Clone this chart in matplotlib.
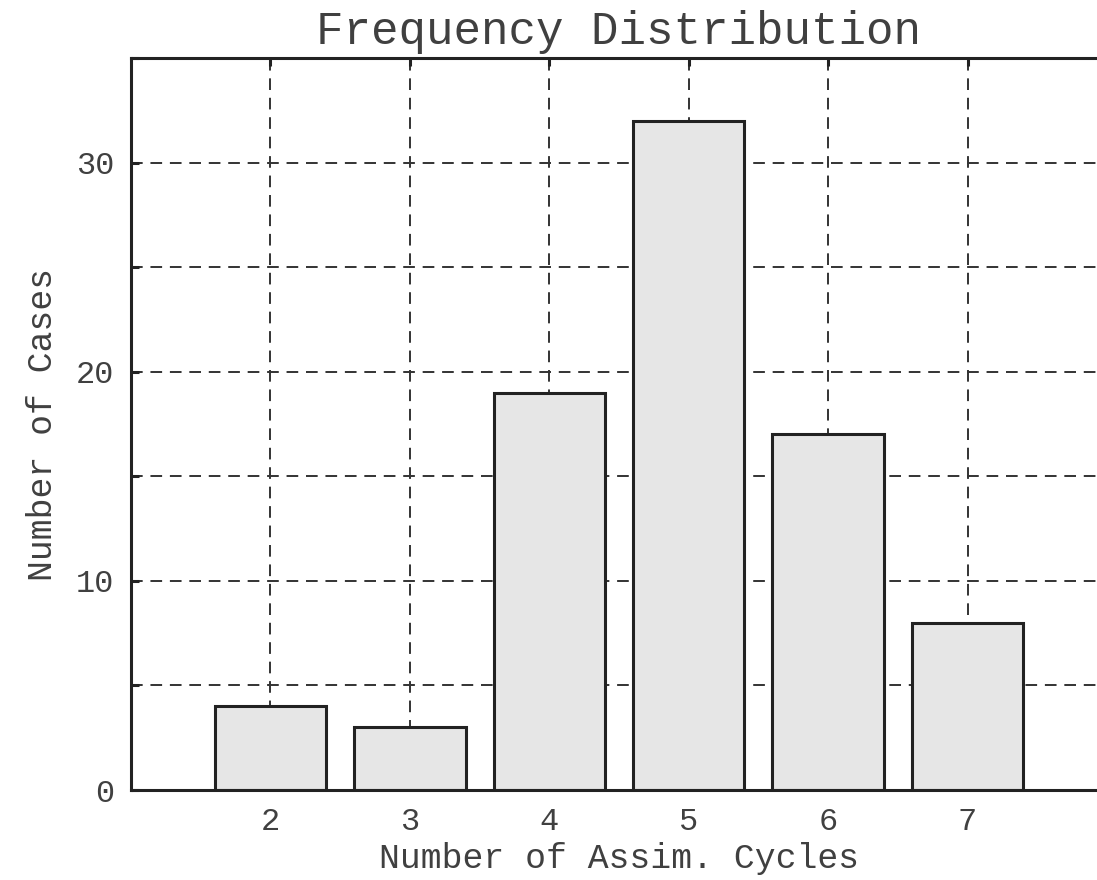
import matplotlib
matplotlib.use("Agg")
import matplotlib.pyplot as plt
from matplotlib.ticker import MultipleLocator

cycles = [2, 3, 4, 5, 6, 7]
counts = [4, 3, 19, 32, 17, 8]
title = "Frequency Distribution"
xlabel = "Number of Assim. Cycles"
ylabel = "Number of Cases"

plt.rcParams['font.family'] = ['Liberation Mono', 'DejaVu Sans Mono']
txt = '#404040'
edge = '#222222'

fig = plt.figure(figsize=(10.97, 8.8), dpi=100)
W, H = 1097, 880
left, right, top, bottom = 131, 1107, 58, 790
ax = fig.add_axes([left / W, 1 - bottom / H, (right - left) / W, (bottom - top) / H])

ax.bar(cycles, counts, width=0.8, color='#e6e6e6', edgecolor=edge, linewidth=2.2, zorder=3)

ax.set_xlim(1, 8)
ax.set_ylim(0, 35)
ax.set_xticks(cycles)
ax.yaxis.set_major_locator(MultipleLocator(10))
ax.yaxis.set_minor_locator(MultipleLocator(5))

ax.grid(True, which='both', axis='y', linestyle=(0, (6, 4)), color='#333333', linewidth=1.4, zorder=0)
ax.grid(True, which='major', axis='x', linestyle=(0, (6, 4)), color='#333333', linewidth=1.4, zorder=0)

for s in ax.spines.values():
    s.set_linewidth(2.2)
    s.set_color(edge)
    s.set_zorder(4)

ax.tick_params(axis='both', which='both', direction='in', length=6, width=2.2, color=edge,
               top=True, right=False, labelsize=23, labelcolor=txt)
ax.tick_params(axis='y', which='both', pad=12)
ax.tick_params(axis='x', which='both', pad=12)

ax.set_title(title, fontsize=33, color=txt, pad=10)
ax.set_xlabel(xlabel, fontsize=25, color=txt, labelpad=4)
ax.set_ylabel(ylabel, fontsize=25, color=txt, labelpad=12)

fig.savefig("out.png", dpi=100)
